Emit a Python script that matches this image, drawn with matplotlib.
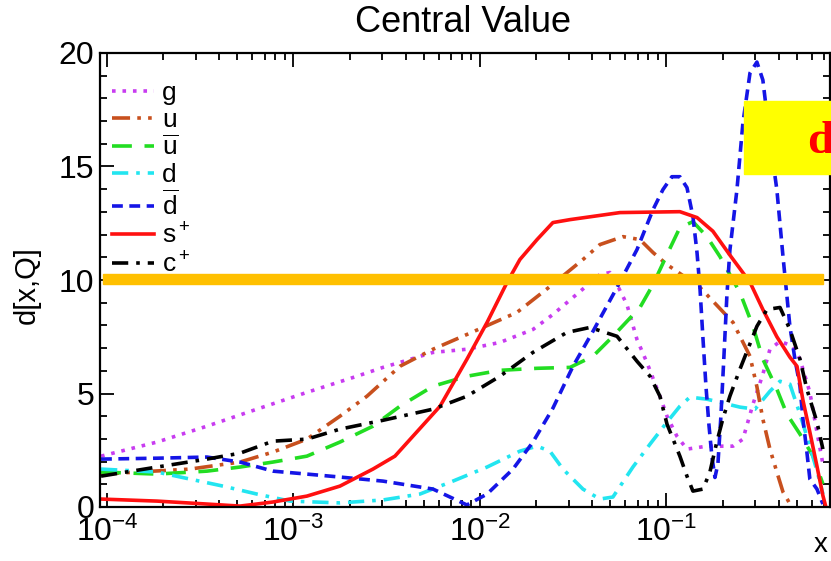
import numpy as np
import matplotlib
matplotlib.use('Agg')
import matplotlib.pyplot as plt
from matplotlib.patches import Rectangle
from matplotlib.ticker import MultipleLocator, LogLocator, NullFormatter

plt.rcParams['font.family'] = ['Liberation Sans', 'DejaVu Sans']
plt.rcParams['mathtext.fontset'] = 'custom'
plt.rcParams['mathtext.rm'] = 'Liberation Sans'
plt.rcParams['mathtext.it'] = 'Liberation Sans:italic'
plt.rcParams['mathtext.bf'] = 'Liberation Sans:bold'

# 数据：log10(x) 与 d[x,Q]
g_logx = [-4.032, -3.732, -3.464, -3.196, -2.928, -2.660, -2.520, -2.429, -2.252, -2.070,
          -1.893, -1.716, -1.609, -1.464, -1.357, -1.303, -1.265, -1.212, -1.158, -1.105,
          -1.035, -0.997, -0.944, -0.890, -0.783, -0.643, -0.590, -0.536, -0.483, -0.445,
          -0.391, -0.322, -0.284, -0.231, -0.193, -0.161]
g_val = [2.24, 2.86, 3.56, 4.31, 5.05, 5.76, 6.15, 6.37, 6.81, 6.95,
         7.25, 7.82, 8.48, 9.49, 10.24, 10.33, 9.80, 8.92, 7.38, 6.37,
         4.88, 4.00, 3.12, 2.55, 2.68, 2.68, 2.99, 4.53, 5.85, 6.95,
         7.30, 7.08, 6.51, 5.05, 3.30, 1.89]

u_logx = [-4.032, -3.555, -3.287, -3.110, -2.928, -2.751, -2.606, -2.429, -2.252, -2.070,
          -1.802, -1.625, -1.448, -1.357, -1.233, -1.142, -1.072, -0.997, -0.820, -0.643,
          -0.552, -0.515, -0.483, -0.445, -0.408, -0.375, -0.349, -0.311]
u_val = [1.45, 1.67, 1.98, 2.42, 2.99, 4.00, 4.88, 6.20, 6.95, 7.60,
         8.57, 9.71, 10.90, 11.56, 11.91, 11.78, 11.21, 10.68, 9.67, 8.13,
         6.64, 5.30, 3.87, 2.55, 1.54, 0.66, 0.30, -0.30]

ubar_logx = [-4.032, -3.732, -3.464, -3.287, -3.110, -2.928, -2.751, -2.574, -2.429, -2.252,
             -2.070, -1.893, -1.694, -1.517, -1.394, -1.287, -1.142, -1.072, -0.997, -0.928,
             -0.858, -0.783, -0.713, -0.660, -0.606, -0.536, -0.483, -0.408, -0.354, -0.284,
             -0.214, -0.161]
ubar_val = [1.54, 1.45, 1.58, 1.76, 1.98, 2.24, 2.86, 3.56, 4.44, 5.32,
            5.76, 6.02, 6.11, 6.15, 6.64, 7.52, 8.79, 9.80, 11.12, 12.31,
            12.57, 11.91, 11.03, 10.24, 9.45, 7.96, 6.51, 5.19, 4.09, 3.21,
            2.24, 1.01]

d_logx = [-4.032, -3.732, -3.555, -3.378, -3.196, -3.019, -2.751, -2.520, -2.322, -2.145,
          -1.962, -1.786, -1.694, -1.625, -1.555, -1.448, -1.357, -1.287, -1.180, -1.088,
          -0.997, -0.928, -0.874, -0.783, -0.606, -0.525, -0.445, -0.391, -0.338, -0.284,
          -0.231, -0.188, -0.161]
d_val = [1.67, 1.54, 1.23, 0.92, 0.57, 0.26, 0.18, 0.31, 0.57, 1.14,
         1.76, 2.46, 2.68, 2.46, 1.67, 0.79, 0.35, 0.44, 1.76, 2.77,
         3.74, 4.44, 4.84, 4.75, 4.40, 4.31, 5.10, 5.54, 5.41, 4.09,
         2.68, 1.45, 0.57]

dbar_logx = [-4.032, -3.732, -3.464, -3.287, -3.110, -2.928, -2.751, -2.520, -2.252, -2.070,
             -1.962, -1.823, -1.716, -1.609, -1.501, -1.394, -1.265, -1.158, -1.072, -1.019,
             -0.971, -0.928, -0.890, -0.858, -0.836, -0.820, -0.804, -0.788, -0.772, -0.756,
             -0.740, -0.724, -0.708, -0.692, -0.676, -0.660, -0.622, -0.590, -0.552, -0.515,
             -0.483, -0.445, -0.408, -0.375, -0.338, -0.311, -0.284, -0.268, -0.247, -0.231,
             -0.193, -0.161]
dbar_val = [2.11, 2.15, 2.20, 1.98, 1.58, 1.45, 1.32, 1.14, 0.79, 0.09,
            0.57, 1.67, 2.86, 4.35, 6.20, 7.74, 9.67, 11.34, 13.10, 13.98,
            14.55, 14.55, 14.07, 12.80, 11.20, 9.60, 7.40, 5.30, 3.60, 2.20,
            1.30, 1.90, 4.00, 6.60, 9.30, 11.30, 13.98, 16.92, 19.12, 19.60,
            18.81, 16.18, 13.98, 11.03, 7.96, 6.51, 5.32, 3.87, 2.42, 1.23,
            0.79, 0.13]

s_logx = [-4.032, -3.732, -3.464, -3.287, -3.110, -2.928, -2.751, -2.574, -2.456, -2.214,
          -2.070, -1.962, -1.855, -1.786, -1.694, -1.609, -1.517, -1.249, -0.928, -0.836,
          -0.751, -0.660, -0.552, -0.483, -0.408, -0.338, -0.300, -0.268, -0.231, -0.193,
          -0.161, -0.145]
s_val = [0.35, 0.26, 0.13, 0.04, 0.22, 0.48, 0.92, 1.67, 2.24, 4.44,
         6.51, 8.13, 9.89, 10.90, 11.78, 12.53, 12.66, 12.97, 13.01, 12.75,
         12.15, 11.10, 9.90, 8.70, 7.50, 6.60, 6.20, 4.70, 3.30, 1.80,
         0.50, 0.00]

c_logx = [-4.032, -3.732, -3.464, -3.287, -3.110, -2.928, -2.751, -2.520, -2.252, -2.070,
          -1.893, -1.716, -1.534, -1.410, -1.265, -1.158, -1.088, -1.035, -0.997, -0.928,
          -0.890, -0.858, -0.804, -0.767, -0.730, -0.698, -0.660, -0.606, -0.515, -0.461,
          -0.391, -0.338, -0.284, -0.247, -0.193, -0.161]
c_val = [1.36, 1.76, 2.11, 2.37, 2.90, 2.99, 3.43, 3.82, 4.31, 4.88,
         5.76, 6.81, 7.69, 7.91, 7.52, 6.42, 5.76, 4.88, 3.65, 2.24,
         1.36, 0.70, 0.79, 1.54, 2.86, 3.87, 4.88, 6.07, 7.96, 8.70,
         8.79, 7.82, 6.51, 5.19, 3.74, 2.55]

series = [
    ('g', g_logx, g_val, '#c83cf0', (1.0, 1.9)),
    ('u', u_logx, u_val, '#c8501e', (5, 2, 1, 2, 1, 2)),
    (r'$\overline{\mathrm{u}}$', ubar_logx, ubar_val, '#22dd22', (5.5, 3.5)),
    ('d', d_logx, d_val, '#22e5f0', (4.5, 2.2, 1, 2.2)),
    (r'$\overline{\mathrm{d}}$', dbar_logx, dbar_val, '#1515e6', (3, 1.8)),
    (r's$^+$', s_logx, s_val, '#ff1010', None),
    (r'c$^+$', c_logx, c_val, 'black', (4.5, 2.2, 1, 2.2)),
]

fig = plt.figure(figsize=(8.31, 5.61), dpi=100)
ax = fig.add_axes([100 / 831, 54 / 561, 730 / 831, 454 / 561])

for label, lx, val, col, dash in series:
    line, = ax.plot(10 ** np.array(lx), val, color=col, lw=2.6, label=label)
    if dash is not None:
        line.set_dashes(dash)

ax.set_xscale('log')
ax.set_xlim(10 ** -4.0375, 10 ** -0.123)
ax.set_ylim(0, 20)
ax.yaxis.set_major_locator(MultipleLocator(5))
ax.yaxis.set_minor_locator(MultipleLocator(1))
ax.xaxis.set_major_locator(LogLocator(base=10, numticks=10))
ax.xaxis.set_minor_locator(LogLocator(base=10, subs=np.arange(2, 10), numticks=20))
ax.xaxis.set_minor_formatter(NullFormatter())
ax.tick_params(which='both', direction='in', top=True, right=True, width=1.3, labelsize=23)
ax.tick_params(which='major', length=10)
ax.tick_params(which='minor', length=5)
ax.tick_params(axis='x', pad=7)
ax.tick_params(axis='y', pad=4)
for sp in ax.spines.values():
    sp.set_linewidth(1.6)

ax.legend(loc='upper left', bbox_to_anchor=(112 / 831, 1 - 81 / 561),
          bbox_transform=fig.transFigure, frameon=False, fontsize=19,
          handlelength=1.6, handletextpad=0.3, labelspacing=0.12,
          borderpad=0, borderaxespad=0)

# 标题与坐标轴名称
fig.text(463 / 831, 1 - 23 / 561, 'Central Value', ha='center', va='center', fontsize=26)
fig.text(27 / 831, 1 - 285 / 561, 'd[x,Q]', rotation=90, ha='center', va='center', fontsize=21)
fig.text(821 / 831, 1 - 545 / 561, 'x', ha='center', va='center', fontsize=20)

# 覆盖在图上的标记
fig.add_artist(Rectangle((744 / 831, 1 - 174 / 561), 90 / 831, 73 / 561,
                         transform=fig.transFigure, color='#ffff00', zorder=10))
fig.text(807 / 831, 1 - 153 / 561, 'd', color='red', fontweight='bold',
         family='Liberation Serif', fontsize=34, va='baseline', zorder=11)
fig.add_artist(Rectangle((103 / 831, 1 - 284 / 561), 720 / 831, 10 / 561,
                         transform=fig.transFigure, color='#ffc000', zorder=10))

fig.savefig('out.png', dpi=100)
